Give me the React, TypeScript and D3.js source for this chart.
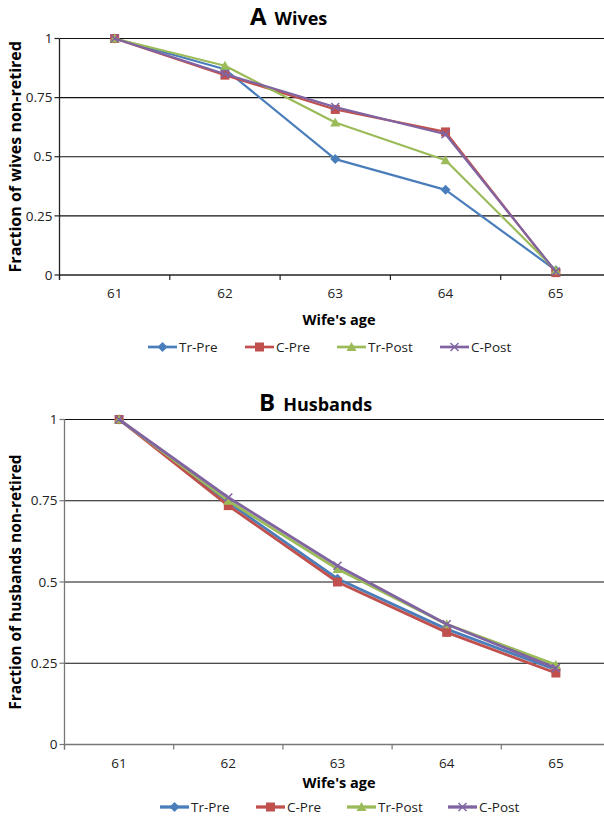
import React, { useRef, useEffect } from 'react';
import * as d3 from 'd3';

const ages = ['61', '62', '63', '64', '65'];
const seriesNames = ['Tr-Pre', 'C-Pre', 'Tr-Post', 'C-Post'];
const seriesColors = ['#4A7EBB', '#C0504D', '#9BBB59', '#8064A2'];
const seriesMarkers = ['diamond', 'square', 'triangle', 'cross'];
const yTicks = [0, 0.25, 0.5, 0.75, 1];

// panel A: wives
const wivesTrPre = [1, 0.87, 0.49, 0.36, 0.02];
const wivesCPre = [1, 0.845, 0.70, 0.605, 0.01];
const wivesTrPost = [1, 0.885, 0.645, 0.485, 0.02];
const wivesCPost = [1, 0.85, 0.71, 0.595, 0.015];

// panel B: husbands
const husbTrPre = [1, 0.745, 0.51, 0.355, 0.23];
const husbCPre = [1, 0.735, 0.50, 0.345, 0.22];
const husbTrPost = [1, 0.75, 0.54, 0.37, 0.245];
const husbCPost = [1, 0.76, 0.55, 0.37, 0.235];

const FONT = "'Open Sans', 'Noto Sans', sans-serif";

interface PanelProps {
    titleY: number;
    letter: string;
    title: string;
    titleX: number;
    yTitle: string;
    yTitleSize: number;
    series: number[][];
    left: number;
    right: number;
    y0: number;
    y1: number;
    lineWidth: number;
    axisTitleY: number;
    legendY: number;
    legendX: number[];
    axisColor: string;
}

const drawMarker = (g: any, kind: string, x: number, y: number, color: string) => {
    if (kind === 'diamond') {
        g.append('path').attr('d', `M${x},${y - 5}L${x + 5},${y}L${x},${y + 5}L${x - 5},${y}Z`).attr('fill', color);
    } else if (kind === 'square') {
        g.append('rect').attr('x', x - 4.5).attr('y', y - 4.5).attr('width', 9).attr('height', 9).attr('fill', color);
    } else if (kind === 'triangle') {
        g.append('path').attr('d', `M${x},${y - 5}L${x + 5},${y + 4}L${x - 5},${y + 4}Z`).attr('fill', color);
    } else {
        g.append('path').attr('d', `M${x - 4},${y - 4}L${x + 4},${y + 4}M${x - 4},${y + 4}L${x + 4},${y - 4}`)
            .attr('stroke', color).attr('stroke-width', 1.5);
    }
};

const Panel: React.FC<PanelProps> = (p) => {
    const ref = useRef<SVGGElement>(null);

    useEffect(() => {
        if (!ref.current) return;
        const g = d3.select(ref.current);
        g.selectAll('*').remove();

        const x = d3.scalePoint<string>().domain(ages).range([p.left, p.right]).padding(0.5);
        const band = x.step();
        const y = d3.scaleLinear().domain([0, 1]).range([p.y0, p.y1]);

        // gridlines
        g.selectAll('line.grid').data(yTicks.filter(t => t > 0)).enter().append('line')
            .attr('x1', p.left).attr('x2', 604)
            .attr('y1', d => y(d)).attr('y2', d => y(d))
            .attr('stroke', '#111').attr('stroke-width', 1.2);

        // y axis
        g.append('line').attr('x1', p.left).attr('x2', p.left).attr('y1', p.y1).attr('y2', p.y0 + 5)
            .attr('stroke', p.axisColor).attr('stroke-width', 1.3);
        g.selectAll('line.yt').data(yTicks).enter().append('line')
            .attr('x1', p.left - 5).attr('x2', p.left).attr('y1', d => y(d)).attr('y2', d => y(d))
            .attr('stroke', p.axisColor).attr('stroke-width', 1.2);
        g.selectAll('text.yl').data(yTicks).enter().append('text')
            .attr('x', p.left - 7).attr('y', d => y(d)).attr('dy', '0.35em')
            .attr('text-anchor', 'end').attr('font-size', 13.5).attr('font-family', FONT).attr('fill', '#222')
            .text(d => d3.format('~g')(d));

        // x axis
        g.append('line').attr('x1', p.left).attr('x2', 604).attr('y1', p.y0).attr('y2', p.y0)
            .attr('stroke', p.axisColor).attr('stroke-width', 1.3);
        const bounds = d3.range(ages.length + 1).map(i => p.left + i * band);
        g.selectAll('line.xt').data(bounds).enter().append('line')
            .attr('x1', d => d).attr('x2', d => d).attr('y1', p.y0).attr('y2', p.y0 + 5)
            .attr('stroke', p.axisColor).attr('stroke-width', 1.2);
        g.selectAll('text.xl').data(ages).enter().append('text')
            .attr('x', d => x(d)!).attr('y', p.y0 + 23)
            .attr('text-anchor', 'middle').attr('font-size', 13.5).attr('font-family', FONT).attr('fill', '#222')
            .text(d => d);

        // titles
        const t = g.append('text').attr('x', p.titleX).attr('y', p.titleY)
            .attr('font-family', FONT).attr('font-weight', 'bold').attr('fill', '#000');
        t.append('tspan').attr('font-size', 24).text(p.letter);
        t.append('tspan').attr('font-size', 18).attr('dx', 8).text(p.title);

        g.append('text').attr('x', 339).attr('y', p.axisTitleY)
            .attr('text-anchor', 'middle').attr('font-size', 14.5).attr('font-weight', 'bold')
            .attr('font-family', FONT).text("Wife's age");

        g.append('text').attr('transform', `translate(21,${(p.y0 + p.y1) / 2}) rotate(-90)`)
            .attr('text-anchor', 'middle').attr('font-size', p.yTitleSize).attr('font-weight', 'bold')
            .attr('font-family', FONT).text(p.yTitle);

        // series
        const line = d3.line<number>().x((_, i) => x(ages[i])!).y(d => y(d));
        p.series.forEach((vals, si) => {
            g.append('path').datum(vals).attr('d', line).attr('fill', 'none')
                .attr('stroke', seriesColors[si]).attr('stroke-width', p.lineWidth)
                .attr('stroke-linejoin', 'round');
            vals.forEach((v, i) => drawMarker(g, seriesMarkers[si], x(ages[i])!, y(v), seriesColors[si]));
        });

        // legend
        seriesNames.forEach((name, si) => {
            const lx = p.legendX[si];
            g.append('line').attr('x1', lx).attr('x2', lx + 29).attr('y1', p.legendY).attr('y2', p.legendY)
                .attr('stroke', seriesColors[si]).attr('stroke-width', p.lineWidth + 0.5);
            drawMarker(g, seriesMarkers[si], lx + 14.5, p.legendY, seriesColors[si]);
            g.append('text').attr('x', lx + 31).attr('y', p.legendY).attr('dy', '0.35em')
                .attr('font-size', 13.5).attr('font-family', FONT).attr('fill', '#222').text(name);
        });
    }, [p]);

    return <g ref={ref} />;
};

export default function App() {
    return (
        <div style={{ position: 'absolute', left: 0, top: 0 }}>
            <svg width={604} height={818} style={{ display: 'block', background: '#fff' }}>
                <Panel titleY={25} letter="A" title="Wives" titleX={250}
                    yTitle="Fraction of wives non-retired" yTitleSize={16}
                    series={[wivesTrPre, wivesCPre, wivesTrPost, wivesCPost]}
                    left={59.5} right={611} y0={275} y1={38.5} lineWidth={2.2}
                    axisTitleY={325} legendY={347} legendX={[148, 245, 337, 440]} axisColor="#222" />
                <Panel titleY={411} letter="B" title="Husbands" titleX={259}
                    yTitle="Fraction of husbands non-retired" yTitleSize={15.5}
                    series={[husbTrPre, husbCPre, husbTrPost, husbCPost]}
                    left={64.5} right={610.5} y0={744.5} y1={419.5} lineWidth={2.8}
                    axisTitleY={788} legendY={807} legendX={[160, 256, 347, 448]} axisColor="#777" />
            </svg>
        </div>
    );
}
